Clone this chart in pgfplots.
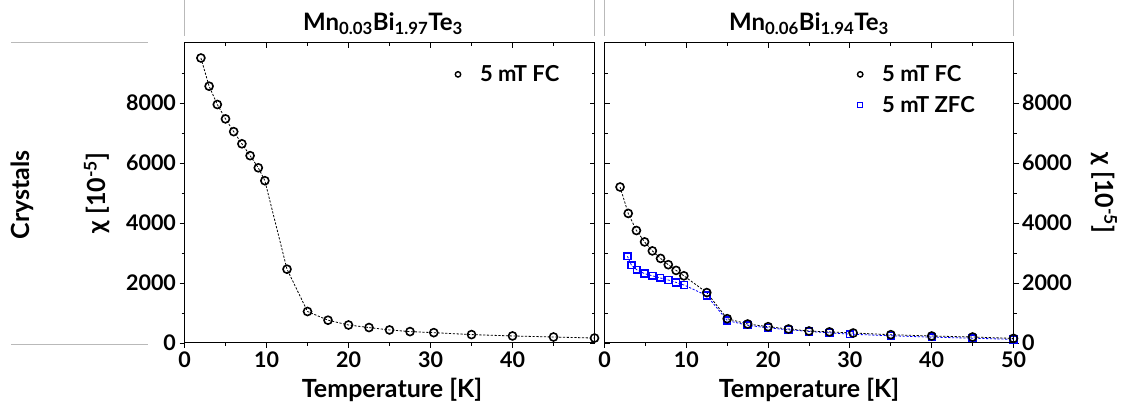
\documentclass[border=0pt]{standalone}
\usepackage{fontspec}
\setmainfont{Lato}
\usepackage{pgfplots}
\usepackage{pgfplotstable}
\pgfplotsset{compat=1.18}
\definecolor{zfcblue}{RGB}{0,0,255}
\definecolor{stripgray}{RGB}{185,185,185}

\pgfplotstableread{
T chi
2 9500
3 8560
4 7950
5 7470
6 7045
7 6640
8 6245
9 5840
9.8 5410
12.5 2460
15 1050
17.5 760
20 600
22.5 515
25 435
27.5 380
30.4 345
35 280
40 235
45 200
50 165
}\fcA

\pgfplotstableread{
T chi
1.9 5200
2.9 4320
3.9 3750
4.9 3370
5.85 3070
6.85 2820
7.8 2610
8.75 2420
9.7 2240
12.5 1680
15 810
17.5 633
20 543
22.5 467
25 400
27.5 370
30.4 333
35 277
40 233
45 200
50 153
}\fcB

\pgfplotstableread{
T chi
2.8 2890
3.3 2590
3.95 2440
4.9 2310
5.85 2240
6.8 2170
7.8 2100
8.75 2020
9.75 1930
12.5 1580
15 750
17.5 590
20 505
22.5 440
25 385
27.5 340
30 295
35 240
40 195
45 160
50 120
}\zfcB

\newcommand{\tickfont}{\bfseries\fontsize{21.5}{25}\selectfont}
\newcommand{\labfont}{\bfseries\fontsize{25}{29}\selectfont}
\newcommand{\titfont}{\bfseries\fontsize{24}{28}\selectfont}
\newcommand{\legfont}{\bfseries\fontsize{22}{26}\selectfont}

\pgfplotsset{
  base/.style={
    scale only axis, width=410pt, height=300pt,
    xmin=0, xmax=50, ymin=0, ymax=10000,
    axis line style={line width=1pt},
    major tick length=5pt, minor tick length=3pt,
    every tick/.style={line width=0.9pt, black},
    tick label style={font=\tickfont},
    /pgf/number format/assume math mode=true,
    scaled y ticks=false,
    yticklabel style={/pgf/number format/1000 sep={}},
    ytick={0,2000,4000,6000,8000},
    minor ytick={1000,3000,5000,7000,9000},
    minor xtick={5,15,25,35,45},
  },
  inner/.style={
    base, xtick pos=top, ytick pos=right, tick align=inside,
    xticklabels={}, yticklabels={},
  },
  dline/.style={dash pattern=on 2.2pt off 1.6pt, line width=0.8pt},
  fcmark/.style={mark=o, mark size=4pt, mark options={solid, line width=1.6pt, fill=white, draw=black}},
  zfcmark/.style={mark=square, mark size=3.4pt, mark options={solid, line width=1.6pt, fill=white, draw=zfcblue}},
  legend image code/.code={\path[draw=none,fill=none] (-6pt,-5pt) rectangle (20pt,5pt); \draw[#1] plot coordinates {(0pt,0pt)};},
}

\begin{document}
\begin{tikzpicture}[x=1pt,y=1pt]
\useasboundingbox (0,0) rectangle (1131,409);

% strip / row decorations
\draw[stripgray, line width=1pt] (184.5,409) -- (184.5,373);
\draw[stripgray, line width=1pt] (594.5,409) -- (594.5,373);
\draw[stripgray, line width=1pt] (604.5,409) -- (604.5,373);
\draw[stripgray, line width=1pt] (1013.5,409) -- (1013.5,373);
\draw[stripgray, line width=1pt] (11,366.3) -- (148,366.3);
\draw[stripgray, line width=1pt] (11,64) -- (148,64);

% left panel
\begin{axis}[base, at={(184.5pt,66pt)}, anchor=south west,
  xtick={0,10,20,30,40}, xtick pos=bottom, ytick pos=left, tick align=outside,
  legend style={at={(rel axis cs:0.652,0.932)}, anchor=north west, draw=none, fill=none,
    font=\legfont, inner sep=0pt, cells={anchor=west}},
]
\addplot[black, dline, fcmark, forget plot] table[x=T,y=chi] {\fcA};
\addlegendimage{only marks, mark=o, mark size=2.7pt, mark options={line width=1.4pt, fill=white}}
\addlegendentry{5 mT FC}
\end{axis}
\begin{axis}[inner, at={(184.5pt,66pt)}, anchor=south west, xtick={0,10,20,30,40}]
\end{axis}

% right panel
\begin{axis}[base, at={(604.5pt,66pt)}, anchor=south west, width=409pt,
  xtick={0,10,20,30,40,50}, xtick pos=bottom, ytick pos=right, yticklabel pos=right, tick align=outside,
  legend style={at={(rel axis cs:0.61,0.932)}, anchor=north west, draw=none, fill=none,
    font=\legfont, inner sep=0pt, cells={anchor=west}, row sep=9pt},
]
\addplot[zfcblue, dline, zfcmark, forget plot] table[x=T,y=chi] {\zfcB};
\addplot[black, dline, fcmark, forget plot] table[x=T,y=chi] {\fcB};
\addlegendimage{only marks, mark=o, mark size=2.7pt, mark options={line width=1.4pt, fill=white}}
\addlegendentry{5 mT FC}
\addlegendimage{only marks, mark=square, mark size=2.5pt, mark options={line width=1.4pt, fill=white, draw=zfcblue}}
\addlegendentry{5 mT ZFC}
\end{axis}
\begin{axis}[inner, at={(604.5pt,66pt)}, anchor=south west, width=409pt, xtick={0,10,20,30,40,50},
  xtick pos=top, ytick pos=left]
\end{axis}

% titles and labels
\node[font=\titfont, anchor=base] at (383,378) {Mn\textsubscript{0.03}Bi\textsubscript{1.97}Te\textsubscript{3}};
\node[font=\titfont, anchor=base] at (809,378) {Mn\textsubscript{0.06}Bi\textsubscript{1.94}Te\textsubscript{3}};
\node[font=\labfont, anchor=base] at (392,11) {Temperature [K]};
\node[font=\labfont, anchor=base] at (809,11) {Temperature [K]};
\node[font=\labfont, rotate=90] at (97,216) {χ [10\textsuperscript{-5}]};
\node[font=\labfont, rotate=-90] at (1104,216) {χ [10\textsuperscript{-5}]};
\node[font=\labfont, rotate=90] at (22,214) {Crystals};
\end{tikzpicture}
\end{document}
